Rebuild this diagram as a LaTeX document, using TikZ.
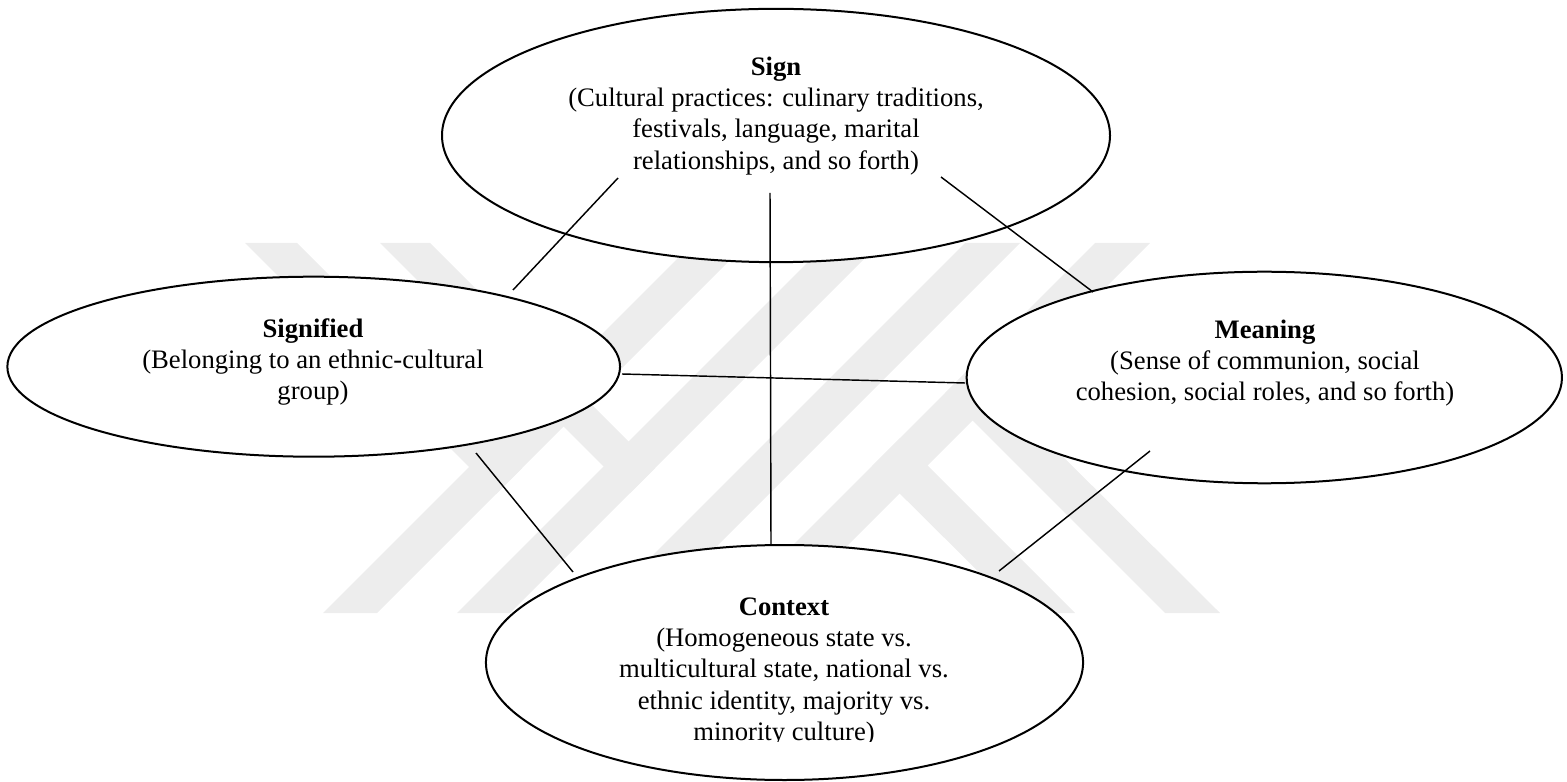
\documentclass[tikz,border=0pt]{standalone}
\usepackage{fontspec}
\setmainfont{Liberation Serif}
\usetikzlibrary{shapes.geometric}
\tikzset{%
  concept/.style = {shape=ellipse, draw, fill=white, line width=0.9pt,%
                    inner sep=0pt},%
  blurb/.style   = {align=center, inner sep=0pt,%
                    font=\fontsize{12}{14}\selectfont},%
  link/.style    = {line width=0.65pt},%
  stripe/.style  = {fill=black!7, draw=none}%
}

\begin{document}
\begin{tikzpicture}[x=0.45pt,y=-0.45pt]
	\useasboundingbox (0,0) rectangle (1567,782);
	% watermark
	\fill[stripe] (245,243) -- (297,243) -- (522,468) -- (496,494) -- cycle;
	\fill[stripe] (380,243) -- (430,243) -- (655,468) -- (630,493) -- cycle;
	\fill[stripe] (323,613) -- (377,613) -- (747,243) -- (693,243) -- cycle;
	\fill[stripe] (457,613) -- (510,613) -- (880,243) -- (827,243) -- cycle;
	\fill[stripe] (595,613) -- (650,613) -- (1020,243) -- (965,243) -- cycle;
	\fill[stripe] (725,613) -- (780,613) -- (1150,243) -- (1095,243) -- cycle;
	\fill[stripe] (1020,613) -- (1075,613) -- (900,438) -- (872,466) -- cycle;
	\fill[stripe] (1165,613) -- (1220,613) -- (972,366) -- (945,393) -- cycle;
	% ovals
	\node[concept, minimum width=300.6pt, minimum height=114pt] (sign) at (776,135.5) {};
	\node[concept, minimum width=275.7pt, minimum height=81pt] (signified) at (313.7,366.7) {};
	\node[concept, minimum width=267.9pt, minimum height=95.2pt] (meaning) at (1264.3,377.5) {};
	\node[concept, minimum width=268.7pt, minimum height=105.75pt] (context) at (784.5,662.5) {};
	% texts
	\node[blurb] (sign-text) at (776,116) {\textbf{Sign}\\(Cultural practices: culinary traditions,\\festivals, language, marital\\relationships, and so forth)};
	\node[blurb] (signified-text) at (313,362) {\textbf{Signified}\\(Belonging to an ethnic-cultural\\group)};
	\node[blurb] (meaning-text) at (1265,363) {\textbf{Meaning}\\(Sense of communion, social\\cohesion, social roles, and so forth)};
	\begin{scope}
		\clip (480,540) rectangle (1090,741);
		\node[blurb] (context-text) at (784,672) {\textbf{Context}\\(Homogeneous state vs.\\multicultural state, national vs.\\ethnic identity, majority vs.\\minority culture)};
	\end{scope}
	% connector ends
	\coordinate (sign-sw) at (618,178);
	\coordinate (sign-s) at (770,193);
	\coordinate (sign-se) at (941,177);
	\coordinate (signified-ne) at (513,290);
	\coordinate (signified-e) at (622,374);
	\coordinate (signified-se) at (476,453);
	\coordinate (meaning-nw) at (1093,292);
	\coordinate (meaning-w) at (965,383);
	\coordinate (meaning-sw) at (1150,451);
	\coordinate (context-n) at (771,545);
	\coordinate (context-nw) at (573,572);
	\coordinate (context-ne) at (999,571);
	% connectors
	\draw[link] (sign-sw) -- (signified-ne);
	\draw[link] (sign-s) -- (context-n);
	\draw[link] (sign-se) -- (meaning-nw);
	\draw[link] (signified-e) -- (meaning-w);
	\draw[link] (signified-se) -- (context-nw);
	\draw[link] (meaning-sw) -- (context-ne);
\end{tikzpicture}
\end{document}
